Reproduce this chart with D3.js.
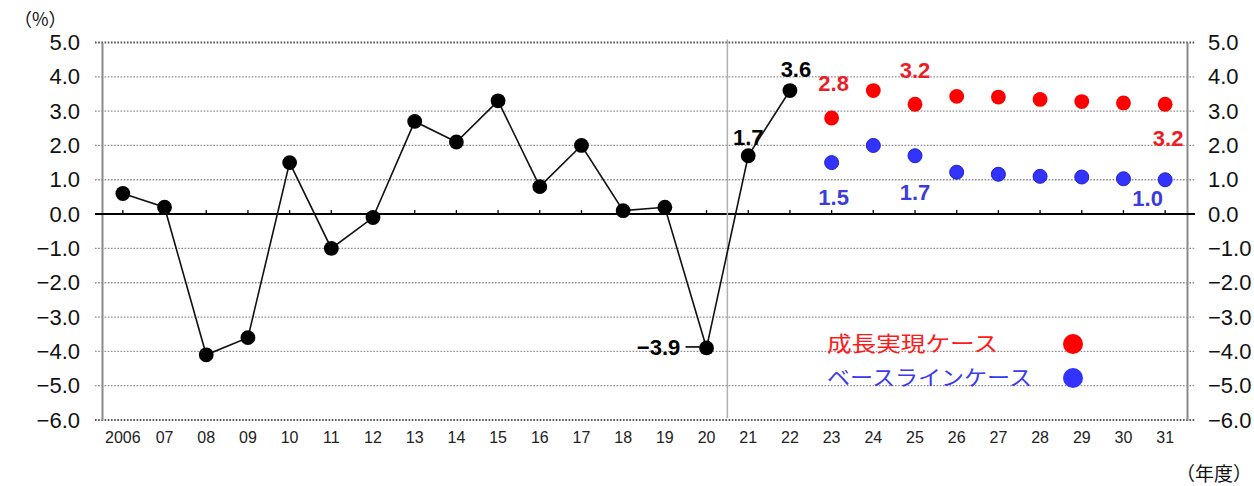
<!DOCTYPE html>
<html>
<head>
<meta charset="utf-8">
<script src="https://cdn.jsdelivr.net/npm/d3@7"></script>
<style>
  html, body { margin: 0; padding: 0; background: #fff; }
  svg { display: block; }
  text { font-family: "Liberation Sans", Arial, sans-serif; }
  .jp { font-family: "Noto Sans CJK JP", "Noto Sans", sans-serif; }
</style>
</head>
<body>
<svg id="chart" width="1254" height="486"></svg>
<script>
// Fiscal years on the x axis
const years = ["2006","07","08","09","10","11","12","13","14","15","16","17","18","19","20","21","22","23","24","25","26","27","28","29","30","31"];

// Actual real growth rate, FY2006–FY2022 (%)
const actualYears = ["2006","07","08","09","10","11","12","13","14","15","16","17","18","19","20","21","22"];
const actualValues = [0.6, 0.2, -4.1, -3.6, 1.5, -1.0, -0.1, 2.7, 2.1, 3.3, 0.8, 2.0, 0.1, 0.2, -3.9, 1.7, 3.6];

// Projections, FY2023–FY2031 (%)
const projYears = ["23","24","25","26","27","28","29","30","31"];
const growthCase = [2.8, 3.6, 3.2, 3.43, 3.41, 3.34, 3.28, 3.24, 3.2];
const baselineCase = [1.5, 2.0, 1.7, 1.22, 1.16, 1.10, 1.08, 1.03, 1.0];

// Y axis ticks
const yTicks = [5, 4, 3, 2, 1, 0, -1, -2, -3, -4, -5, -6];

// Labelled values (offsets are from the labelled point)
const actualLabels = [
  { year: "20", value: -3.9, dx: -48, dy: -1 },
  { year: "21", value: 1.7, dx: 0, dy: -18.5 },
  { year: "22", value: 3.6, dx: 6, dy: -21 }
];
const growthLabels = [
  { year: "23", value: 2.8, dx: 2, dy: -35 },
  { year: "25", value: 3.2, dx: 0, dy: -34 },
  { year: "31", value: 3.2, dx: 3, dy: 34 }
];
const baselineLabels = [
  { year: "23", value: 1.5, dx: 2, dy: 34 },
  { year: "25", value: 1.7, dx: 0, dy: 36.5 },
  { year: "31", value: 1.0, dx: -17.5, dy: 18 }
];

const legendItems = [
  { name: "成長実現ケース", color: "#ff1a1a", dot: "#ff0000", width: 171 },
  { name: "ベースラインケース", color: "#3a3aee", dot: "#3333ff", width: 205 }
];

const svg = d3.select("#chart");
const plotLeft = 102, plotRight = 1187, plotTop = 42.5, plotBottom = 420;

const x = d3.scaleBand().domain(years).range([plotLeft, plotRight - 1]).padding(0);
const cx = d => x(d) + x.bandwidth() / 2;
const y = d3.scaleLinear().domain([-6, 5]).range([plotBottom, plotTop]);

// Dotted gridlines (extend past the frame as tick marks)
svg.append("g")
  .selectAll("line")
  .data(yTicks.filter(v => v !== 0))
  .join("line")
  .attr("x1", plotLeft - 7).attr("x2", plotRight + 8)
  .attr("y1", d => y(d)).attr("y2", d => y(d))
  .attr("stroke", d => (d === 5 || d === -6) ? "#555" : "#8c8c8c")
  .attr("stroke-width", d => (d === 5 || d === -6) ? 2 : 1.3)
  .attr("stroke-dasharray", "1.6,1.6");

// Left and right axes
const fmt = v => d3.format(".1f")(v);
const leftAxis = d3.axisLeft(y).tickValues(yTicks).tickFormat(fmt).tickSize(0).tickPadding(22);
const gl = svg.append("g").attr("transform", `translate(${plotLeft},0)`).call(leftAxis);
const rightAxis = d3.axisRight(y).tickValues(yTicks).tickFormat(fmt).tickSize(0).tickPadding(21);
const gr = svg.append("g").attr("transform", `translate(${plotRight},0)`).call(rightAxis);
[gl, gr].forEach(g => {
  g.select(".domain").attr("stroke", "#8a8a8a").attr("stroke-width", 2);
  g.selectAll("text")
    .attr("font-size", 22)
    .attr("fill", "#111")
    .attr("font-family", "'Liberation Sans', Arial, sans-serif");
});

// Zero line with small category ticks
svg.append("line")
  .attr("x1", plotLeft - 7).attr("x2", plotRight + 8)
  .attr("y1", y(0)).attr("y2", y(0))
  .attr("stroke", "#000").attr("stroke-width", 2);
svg.append("g")
  .selectAll("line")
  .data(years)
  .join("line")
  .attr("x1", d => cx(d)).attr("x2", d => cx(d))
  .attr("y1", y(0) - 4).attr("y2", y(0))
  .attr("stroke", "#000").attr("stroke-width", 1.3);

// Divider between actual and projected years
const divX = (cx("20") + cx("21")) / 2;
svg.append("line")
  .attr("x1", divX).attr("x2", divX)
  .attr("y1", plotTop - 3).attr("y2", plotBottom - 2)
  .attr("stroke", "#b0b0b0").attr("stroke-width", 1.5);

// X axis labels
const xAxis = d3.axisBottom(x).tickSize(0).tickPadding(12);
const gx = svg.append("g").attr("transform", `translate(0,${plotBottom})`).call(xAxis);
gx.select(".domain").remove();
gx.selectAll("text")
  .attr("font-size", 16)
  .attr("fill", "#222")
  .attr("font-family", "'Liberation Sans', Arial, sans-serif");

// Actual series: line + dots
const line = d3.line().x((d, i) => cx(actualYears[i])).y(d => y(d));
svg.append("path")
  .datum(actualValues)
  .attr("d", line)
  .attr("fill", "none")
  .attr("stroke", "#111")
  .attr("stroke-width", 1.6);
svg.append("g")
  .selectAll("circle")
  .data(actualValues)
  .join("circle")
  .attr("cx", (d, i) => cx(actualYears[i]))
  .attr("cy", d => y(d))
  .attr("r", 7.4)
  .attr("fill", "#000");

// Projection dots
svg.append("g")
  .selectAll("circle")
  .data(growthCase)
  .join("circle")
  .attr("cx", (d, i) => cx(projYears[i]))
  .attr("cy", d => y(d))
  .attr("r", 7.4)
  .attr("fill", "#ff0000");
svg.append("g")
  .selectAll("circle")
  .data(baselineCase)
  .join("circle")
  .attr("cx", (d, i) => cx(projYears[i]))
  .attr("cy", d => y(d))
  .attr("r", 7)
  .attr("fill", "#3333ff")
  .attr("stroke", "#1f1fc8")
  .attr("stroke-width", 1);

// Value labels
const labelFont = "'Liberation Sans', Arial, sans-serif";
function drawLabels(data, color) {
  svg.append("g")
    .selectAll("text")
    .data(data)
    .join("text")
    .attr("x", d => cx(d.year) + d.dx)
    .attr("y", d => y(d.value) + d.dy)
    .attr("dy", "0.36em")
    .attr("text-anchor", "middle")
    .attr("font-size", 22)
    .attr("font-weight", "bold")
    .attr("font-family", labelFont)
    .attr("fill", color)
    .text(d => d3.format(".1f")(d.value));
}
drawLabels(actualLabels, "#000");
drawLabels(growthLabels, "#ee1c25");
drawLabels(baselineLabels, "#3c3cdc");

// Leader for the FY2020 label
svg.append("line")
  .attr("x1", cx("20") - 21).attr("x2", cx("20") - 7)
  .attr("y1", y(-3.9) - 1).attr("y2", y(-3.9) - 1)
  .attr("stroke", "#000").attr("stroke-width", 1.6);

// Legend
const lg = svg.append("g");
legendItems.forEach((it, i) => {
  const ly = 344 + i * 34;
  lg.append("text")
    .attr("class", "jp")
    .attr("x", 827)
    .attr("y", ly)
    .attr("dy", "0.35em")
    .attr("font-size", 21)
    .attr("textLength", it.width)
    .attr("lengthAdjust", "spacingAndGlyphs")
    .attr("fill", it.color)
    .text(it.name);
  lg.append("circle")
    .attr("cx", 1073).attr("cy", ly)
    .attr("r", 10)
    .attr("fill", it.dot);
});

// Unit captions
svg.append("text")
  .attr("class", "jp")
  .attr("x", 14).attr("y", 20)
  .attr("dy", "0.35em")
  .attr("font-size", 18)
  .attr("fill", "#111")
  .text("（%）");
svg.append("text")
  .attr("class", "jp")
  .attr("x", 1252).attr("y", 474)
  .attr("dy", "0.35em")
  .attr("text-anchor", "end")
  .attr("font-size", 19)
  .attr("fill", "#111")
  .text("（年度）");
</script>
</body>
</html>
